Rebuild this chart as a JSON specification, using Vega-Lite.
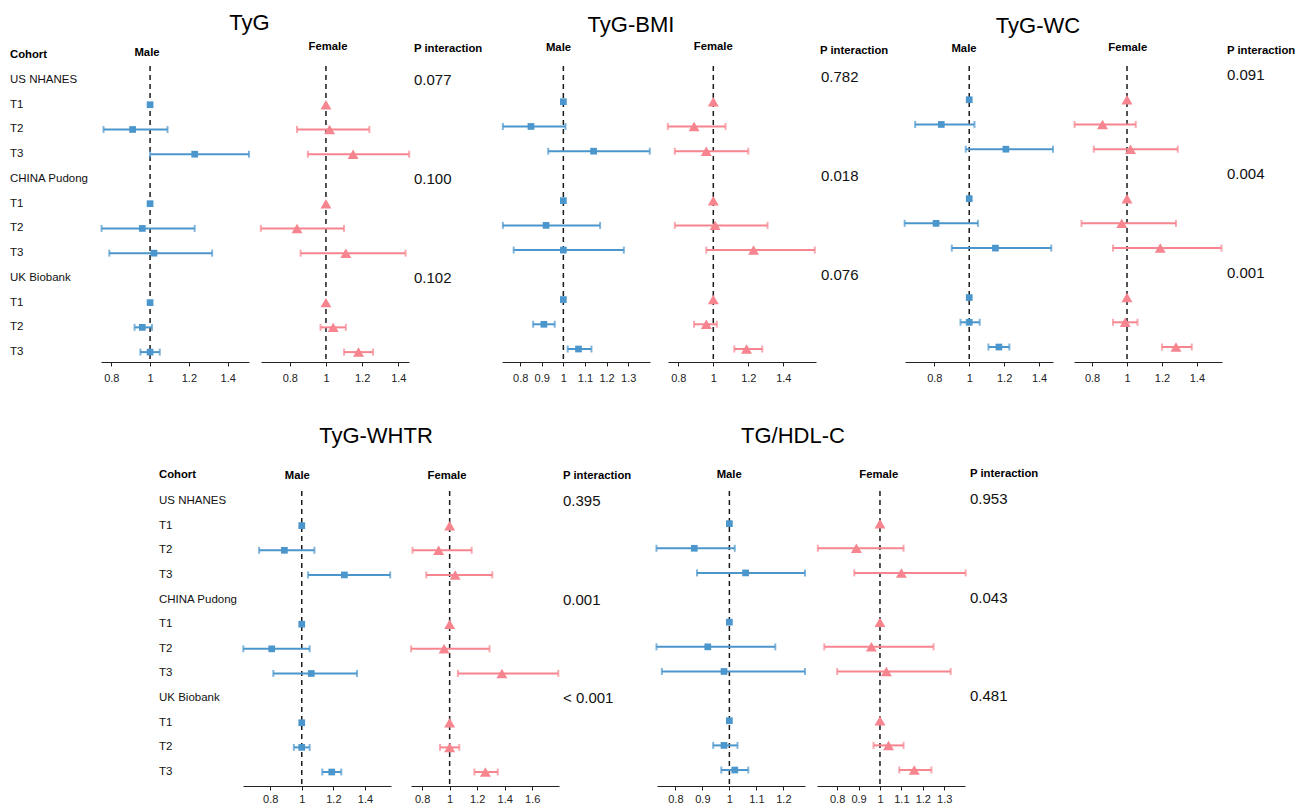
{
"$schema": "https://vega.github.io/schema/vega-lite/v6.json",
"background": "white",
"padding": {"left": 9, "top": 12, "right": 5, "bottom": 5},
"bounds": "flush",
"spacing": 425,
"datasets": {
"labels": [
{"row":1,"label":"US NHANES"},{"row":2,"label":"T1"},{"row":3,"label":"T2"},{"row":4,"label":"T3"},
{"row":5,"label":"CHINA Pudong"},{"row":6,"label":"T1"},{"row":7,"label":"T2"},{"row":8,"label":"T3"},
{"row":9,"label":"UK Biobank"},{"row":10,"label":"T1"},{"row":11,"label":"T2"},{"row":12,"label":"T3"}
],
"pvals": [
{"p":"TyG","row":1,"pval":"0.077"},{"p":"TyG","row":5,"pval":"0.100"},{"p":"TyG","row":9,"pval":"0.102"},
{"p":"TyG-BMI","row":1,"pval":"0.782"},{"p":"TyG-BMI","row":5,"pval":"0.018"},{"p":"TyG-BMI","row":9,"pval":"0.076"},
{"p":"TyG-WC","row":1,"pval":"0.091"},{"p":"TyG-WC","row":5,"pval":"0.004"},{"p":"TyG-WC","row":9,"pval":"0.001"},
{"p":"TyG-WHTR","row":1,"pval":"0.395"},{"p":"TyG-WHTR","row":5,"pval":"0.001"},{"p":"TyG-WHTR","row":9,"pval":"< 0.001"},
{"p":"TG/HDL-C","row":1,"pval":"0.953"},{"p":"TG/HDL-C","row":5,"pval":"0.043"},{"p":"TG/HDL-C","row":9,"pval":"0.481"}
],
"hr": [
{"p":"TyG","sex":"Male","row":2,"hr":1,"lo":null,"hi":null},
{"p":"TyG","sex":"Male","row":3,"hr":0.91,"lo":0.76,"hi":1.09},
{"p":"TyG","sex":"Male","row":4,"hr":1.23,"lo":1.0,"hi":1.51},
{"p":"TyG","sex":"Male","row":6,"hr":1,"lo":null,"hi":null},
{"p":"TyG","sex":"Male","row":7,"hr":0.96,"lo":0.75,"hi":1.23},
{"p":"TyG","sex":"Male","row":8,"hr":1.02,"lo":0.79,"hi":1.32},
{"p":"TyG","sex":"Male","row":10,"hr":1,"lo":null,"hi":null},
{"p":"TyG","sex":"Male","row":11,"hr":0.96,"lo":0.92,"hi":1.01},
{"p":"TyG","sex":"Male","row":12,"hr":1.0,"lo":0.95,"hi":1.05},
{"p":"TyG","sex":"Female","row":2,"hr":1,"lo":null,"hi":null},
{"p":"TyG","sex":"Female","row":3,"hr":1.02,"lo":0.84,"hi":1.24},
{"p":"TyG","sex":"Female","row":4,"hr":1.15,"lo":0.9,"hi":1.46},
{"p":"TyG","sex":"Female","row":6,"hr":1,"lo":null,"hi":null},
{"p":"TyG","sex":"Female","row":7,"hr":0.84,"lo":0.64,"hi":1.1},
{"p":"TyG","sex":"Female","row":8,"hr":1.11,"lo":0.86,"hi":1.44},
{"p":"TyG","sex":"Female","row":10,"hr":1,"lo":null,"hi":null},
{"p":"TyG","sex":"Female","row":11,"hr":1.04,"lo":0.97,"hi":1.11},
{"p":"TyG","sex":"Female","row":12,"hr":1.18,"lo":1.1,"hi":1.26},
{"p":"TyG-BMI","sex":"Male","row":2,"hr":1,"lo":null,"hi":null},
{"p":"TyG-BMI","sex":"Male","row":3,"hr":0.85,"lo":0.72,"hi":1.01},
{"p":"TyG-BMI","sex":"Male","row":4,"hr":1.14,"lo":0.93,"hi":1.4},
{"p":"TyG-BMI","sex":"Male","row":6,"hr":1,"lo":null,"hi":null},
{"p":"TyG-BMI","sex":"Male","row":7,"hr":0.92,"lo":0.72,"hi":1.17},
{"p":"TyG-BMI","sex":"Male","row":8,"hr":1.0,"lo":0.77,"hi":1.28},
{"p":"TyG-BMI","sex":"Male","row":10,"hr":1,"lo":null,"hi":null},
{"p":"TyG-BMI","sex":"Male","row":11,"hr":0.91,"lo":0.86,"hi":0.96},
{"p":"TyG-BMI","sex":"Male","row":12,"hr":1.07,"lo":1.02,"hi":1.13},
{"p":"TyG-BMI","sex":"Female","row":2,"hr":1,"lo":null,"hi":null},
{"p":"TyG-BMI","sex":"Female","row":3,"hr":0.89,"lo":0.74,"hi":1.07},
{"p":"TyG-BMI","sex":"Female","row":4,"hr":0.96,"lo":0.78,"hi":1.2},
{"p":"TyG-BMI","sex":"Female","row":6,"hr":1,"lo":null,"hi":null},
{"p":"TyG-BMI","sex":"Female","row":7,"hr":1.01,"lo":0.78,"hi":1.31},
{"p":"TyG-BMI","sex":"Female","row":8,"hr":1.23,"lo":0.96,"hi":1.58},
{"p":"TyG-BMI","sex":"Female","row":10,"hr":1,"lo":null,"hi":null},
{"p":"TyG-BMI","sex":"Female","row":11,"hr":0.96,"lo":0.89,"hi":1.02},
{"p":"TyG-BMI","sex":"Female","row":12,"hr":1.19,"lo":1.12,"hi":1.28},
{"p":"TyG-WC","sex":"Male","row":2,"hr":1,"lo":null,"hi":null},
{"p":"TyG-WC","sex":"Male","row":3,"hr":0.84,"lo":0.69,"hi":1.03},
{"p":"TyG-WC","sex":"Male","row":4,"hr":1.21,"lo":0.98,"hi":1.48},
{"p":"TyG-WC","sex":"Male","row":6,"hr":1,"lo":null,"hi":null},
{"p":"TyG-WC","sex":"Male","row":7,"hr":0.81,"lo":0.63,"hi":1.05},
{"p":"TyG-WC","sex":"Male","row":8,"hr":1.15,"lo":0.9,"hi":1.47},
{"p":"TyG-WC","sex":"Male","row":10,"hr":1,"lo":null,"hi":null},
{"p":"TyG-WC","sex":"Male","row":11,"hr":1.0,"lo":0.95,"hi":1.06},
{"p":"TyG-WC","sex":"Male","row":12,"hr":1.17,"lo":1.11,"hi":1.23},
{"p":"TyG-WC","sex":"Female","row":2,"hr":1,"lo":null,"hi":null},
{"p":"TyG-WC","sex":"Female","row":3,"hr":0.86,"lo":0.7,"hi":1.05},
{"p":"TyG-WC","sex":"Female","row":4,"hr":1.02,"lo":0.81,"hi":1.29},
{"p":"TyG-WC","sex":"Female","row":6,"hr":1,"lo":null,"hi":null},
{"p":"TyG-WC","sex":"Female","row":7,"hr":0.97,"lo":0.74,"hi":1.28},
{"p":"TyG-WC","sex":"Female","row":8,"hr":1.19,"lo":0.92,"hi":1.54},
{"p":"TyG-WC","sex":"Female","row":10,"hr":1,"lo":null,"hi":null},
{"p":"TyG-WC","sex":"Female","row":11,"hr":0.99,"lo":0.92,"hi":1.06},
{"p":"TyG-WC","sex":"Female","row":12,"hr":1.28,"lo":1.2,"hi":1.37},
{"p":"TyG-WHTR","sex":"Male","row":2,"hr":1,"lo":null,"hi":null},
{"p":"TyG-WHTR","sex":"Male","row":3,"hr":0.89,"lo":0.73,"hi":1.08},
{"p":"TyG-WHTR","sex":"Male","row":4,"hr":1.27,"lo":1.04,"hi":1.56},
{"p":"TyG-WHTR","sex":"Male","row":6,"hr":1,"lo":null,"hi":null},
{"p":"TyG-WHTR","sex":"Male","row":7,"hr":0.81,"lo":0.63,"hi":1.05},
{"p":"TyG-WHTR","sex":"Male","row":8,"hr":1.06,"lo":0.82,"hi":1.35},
{"p":"TyG-WHTR","sex":"Male","row":10,"hr":1,"lo":null,"hi":null},
{"p":"TyG-WHTR","sex":"Male","row":11,"hr":1.0,"lo":0.95,"hi":1.05},
{"p":"TyG-WHTR","sex":"Male","row":12,"hr":1.19,"lo":1.13,"hi":1.25},
{"p":"TyG-WHTR","sex":"Female","row":2,"hr":1,"lo":null,"hi":null},
{"p":"TyG-WHTR","sex":"Female","row":3,"hr":0.92,"lo":0.73,"hi":1.16},
{"p":"TyG-WHTR","sex":"Female","row":4,"hr":1.04,"lo":0.83,"hi":1.31},
{"p":"TyG-WHTR","sex":"Female","row":6,"hr":1,"lo":null,"hi":null},
{"p":"TyG-WHTR","sex":"Female","row":7,"hr":0.96,"lo":0.72,"hi":1.29},
{"p":"TyG-WHTR","sex":"Female","row":8,"hr":1.38,"lo":1.06,"hi":1.79},
{"p":"TyG-WHTR","sex":"Female","row":10,"hr":1,"lo":null,"hi":null},
{"p":"TyG-WHTR","sex":"Female","row":11,"hr":1.0,"lo":0.93,"hi":1.07},
{"p":"TyG-WHTR","sex":"Female","row":12,"hr":1.26,"lo":1.18,"hi":1.35},
{"p":"TG/HDL-C","sex":"Male","row":2,"hr":1,"lo":null,"hi":null},
{"p":"TG/HDL-C","sex":"Male","row":3,"hr":0.87,"lo":0.73,"hi":1.02},
{"p":"TG/HDL-C","sex":"Male","row":4,"hr":1.06,"lo":0.88,"hi":1.28},
{"p":"TG/HDL-C","sex":"Male","row":6,"hr":1,"lo":null,"hi":null},
{"p":"TG/HDL-C","sex":"Male","row":7,"hr":0.92,"lo":0.73,"hi":1.17},
{"p":"TG/HDL-C","sex":"Male","row":8,"hr":0.98,"lo":0.75,"hi":1.28},
{"p":"TG/HDL-C","sex":"Male","row":10,"hr":1,"lo":null,"hi":null},
{"p":"TG/HDL-C","sex":"Male","row":11,"hr":0.98,"lo":0.94,"hi":1.03},
{"p":"TG/HDL-C","sex":"Male","row":12,"hr":1.02,"lo":0.97,"hi":1.07},
{"p":"TG/HDL-C","sex":"Female","row":2,"hr":1,"lo":null,"hi":null},
{"p":"TG/HDL-C","sex":"Female","row":3,"hr":0.89,"lo":0.71,"hi":1.11},
{"p":"TG/HDL-C","sex":"Female","row":4,"hr":1.1,"lo":0.88,"hi":1.4},
{"p":"TG/HDL-C","sex":"Female","row":6,"hr":1,"lo":null,"hi":null},
{"p":"TG/HDL-C","sex":"Female","row":7,"hr":0.96,"lo":0.74,"hi":1.25},
{"p":"TG/HDL-C","sex":"Female","row":8,"hr":1.03,"lo":0.8,"hi":1.33},
{"p":"TG/HDL-C","sex":"Female","row":10,"hr":1,"lo":null,"hi":null},
{"p":"TG/HDL-C","sex":"Female","row":11,"hr":1.04,"lo":0.97,"hi":1.11},
{"p":"TG/HDL-C","sex":"Female","row":12,"hr":1.16,"lo":1.09,"hi":1.24}
]
},
"vconcat": [
{"bounds": "flush", "spacing": 4, "hconcat": [
{"width": 2, "height": 296, "title": {"text": "Cohort", "anchor": "middle", "align": "left", "offset": 6}, "data": {"name": "labels"}, "mark": {"type": "text", "align": "left", "baseline": "middle", "fontSize": 11.5, "color": "#111"}, "encoding": {"y": {"field": "row", "type": "quantitative", "scale": {"domain": [0.434, 12.4], "reverse": true, "nice": false, "zero": false}, "axis": null}, "text": {"field": "label"}}},
{"width": 82, "height": 296, "data": {"values": [{}]}, "mark": "text", "encoding": {"text": {"value": ""}}},
{"width": 148, "height": 296, "title": {"text": "Male", "offset": 7, "dx": -28}, "data": {"name": "hr"}, "transform": [{"filter": "datum.p === 'TyG' && datum.sex === 'Male'"}],
 "layer": [
  {"data": {"values": [{}]}, "mark": {"type": "rule", "strokeDash": [5, 4], "strokeWidth": 1.5, "color": "#1a1a1a"}, "encoding": {"x": {"datum": 1, "type": "quantitative"}}},
  {"mark": {"type": "rule", "strokeWidth": 2, "color": "#4b96cc"}, "encoding": {"x": {"field": "lo", "type": "quantitative", "title": null, "scale": {"domain": [0.747, 1.51], "nice": false, "zero": false}, "axis": {"values": [0.8, 1, 1.2, 1.4], "tickCount": 20, "labelExpr": "toString(datum.value)", "labelOverlap": false}}, "x2": {"field": "hi"}, "y": {"field": "row", "type": "quantitative", "scale": {"domain": [0.434, 12.4], "reverse": true, "nice": false, "zero": false}, "axis": null}}},
  {"mark": {"type": "tick", "orient": "vertical", "thickness": 2, "size": 7, "color": "#4b96cc"}, "encoding": {"x": {"field": "lo", "type": "quantitative", "title": null}, "y": {"field": "row", "type": "quantitative"}}},
  {"mark": {"type": "tick", "orient": "vertical", "thickness": 2, "size": 7, "color": "#4b96cc"}, "encoding": {"x": {"field": "hi", "type": "quantitative", "title": null}, "y": {"field": "row", "type": "quantitative"}}},
  {"mark": {"type": "point", "shape": "square", "filled": true, "size": 45, "color": "#4b96cc", "opacity": 1}, "encoding": {"x": {"field": "hr", "type": "quantitative", "title": null}, "y": {"field": "row", "type": "quantitative"}}}
 ]},
{"width": 4, "height": 296, "title": {"text": "TyG", "fontSize": 22, "fontWeight": "normal", "offset": 31, "dx": -5.5}, "data": {"values": [{}]}, "mark": "text", "encoding": {"text": {"value": ""}}},
{"width": 148, "height": 296, "title": {"text": "Female", "offset": 12.6, "dx": -7}, "data": {"name": "hr"}, "transform": [{"filter": "datum.p === 'TyG' && datum.sex === 'Female'"}],
 "layer": [
  {"data": {"values": [{}]}, "mark": {"type": "rule", "strokeDash": [5, 4], "strokeWidth": 1.5, "color": "#1a1a1a"}, "encoding": {"x": {"datum": 1, "type": "quantitative"}}},
  {"mark": {"type": "rule", "strokeWidth": 2, "color": "#f6858f"}, "encoding": {"x": {"field": "lo", "type": "quantitative", "title": null, "scale": {"domain": [0.641, 1.459], "nice": false, "zero": false}, "axis": {"values": [0.8, 1, 1.2, 1.4], "tickCount": 20, "labelExpr": "toString(datum.value)", "labelOverlap": false}}, "x2": {"field": "hi"}, "y": {"field": "row", "type": "quantitative", "scale": {"domain": [0.434, 12.4], "reverse": true, "nice": false, "zero": false}, "axis": null}}},
  {"mark": {"type": "tick", "orient": "vertical", "thickness": 2, "size": 7, "color": "#f6858f"}, "encoding": {"x": {"field": "lo", "type": "quantitative", "title": null}, "y": {"field": "row", "type": "quantitative"}}},
  {"mark": {"type": "tick", "orient": "vertical", "thickness": 2, "size": 7, "color": "#f6858f"}, "encoding": {"x": {"field": "hi", "type": "quantitative", "title": null}, "y": {"field": "row", "type": "quantitative"}}},
  {"mark": {"type": "point", "shape": "triangle-up", "filled": true, "size": 120, "color": "#f6858f", "opacity": 1}, "encoding": {"x": {"field": "hr", "type": "quantitative", "title": null}, "y": {"field": "row", "type": "quantitative"}}}
 ]},
{"width": 2, "height": 296, "title": {"text": "P interaction", "anchor": "middle", "align": "left", "offset": 12}, "data": {"name": "pvals"}, "transform": [{"filter": "datum.p === 'TyG'"}], "mark": {"type": "text", "align": "left", "baseline": "middle", "fontSize": 15, "color": "#111"}, "encoding": {"y": {"field": "row", "type": "quantitative", "scale": {"domain": [0.434, 12.4], "reverse": true, "nice": false, "zero": false}, "axis": null}, "text": {"field": "pval"}}},
{"width": 79, "height": 296, "data": {"values": [{}]}, "mark": "text", "encoding": {"text": {"value": ""}}},
{"width": 148, "height": 296, "title": {"text": "Male", "offset": 11.9, "dx": -17.5}, "data": {"name": "hr"}, "transform": [{"filter": "datum.p === 'TyG-BMI' && datum.sex === 'Male'"}],
 "layer": [
  {"data": {"values": [{}]}, "mark": {"type": "rule", "strokeDash": [5, 4], "strokeWidth": 1.5, "color": "#1a1a1a"}, "encoding": {"x": {"datum": 1, "type": "quantitative"}}},
  {"mark": {"type": "rule", "strokeWidth": 2, "color": "#4b96cc"}, "encoding": {"x": {"field": "lo", "type": "quantitative", "title": null, "scale": {"domain": [0.716, 1.401], "nice": false, "zero": false}, "axis": {"values": [0.8, 0.9, 1, 1.1, 1.2, 1.3], "tickCount": 20, "labelExpr": "toString(datum.value)", "labelOverlap": false}}, "x2": {"field": "hi"}, "y": {"field": "row", "type": "quantitative", "scale": {"domain": [0.555, 12.525], "reverse": true, "nice": false, "zero": false}, "axis": null}}},
  {"mark": {"type": "tick", "orient": "vertical", "thickness": 2, "size": 7, "color": "#4b96cc"}, "encoding": {"x": {"field": "lo", "type": "quantitative", "title": null}, "y": {"field": "row", "type": "quantitative"}}},
  {"mark": {"type": "tick", "orient": "vertical", "thickness": 2, "size": 7, "color": "#4b96cc"}, "encoding": {"x": {"field": "hi", "type": "quantitative", "title": null}, "y": {"field": "row", "type": "quantitative"}}},
  {"mark": {"type": "point", "shape": "square", "filled": true, "size": 45, "color": "#4b96cc", "opacity": 1}, "encoding": {"x": {"field": "hr", "type": "quantitative", "title": null}, "y": {"field": "row", "type": "quantitative"}}}
 ]},
{"width": 10, "height": 296, "title": {"text": "TyG-BMI", "fontSize": 22, "fontWeight": "normal", "offset": 28.7, "dx": -28}, "data": {"values": [{}]}, "mark": "text", "encoding": {"text": {"value": ""}}},
{"width": 148, "height": 296, "title": {"text": "Female", "offset": 12.6, "dx": -28.7}, "data": {"name": "hr"}, "transform": [{"filter": "datum.p === 'TyG-BMI' && datum.sex === 'Female'"}],
 "layer": [
  {"data": {"values": [{}]}, "mark": {"type": "rule", "strokeDash": [5, 4], "strokeWidth": 1.5, "color": "#1a1a1a"}, "encoding": {"x": {"datum": 1, "type": "quantitative"}}},
  {"mark": {"type": "rule", "strokeWidth": 2, "color": "#f6858f"}, "encoding": {"x": {"field": "lo", "type": "quantitative", "title": null, "scale": {"domain": [0.741, 1.587], "nice": false, "zero": false}, "axis": {"values": [0.8, 1, 1.2, 1.4], "tickCount": 20, "labelExpr": "toString(datum.value)", "labelOverlap": false}}, "x2": {"field": "hi"}, "y": {"field": "row", "type": "quantitative", "scale": {"domain": [0.555, 12.525], "reverse": true, "nice": false, "zero": false}, "axis": null}}},
  {"mark": {"type": "tick", "orient": "vertical", "thickness": 2, "size": 7, "color": "#f6858f"}, "encoding": {"x": {"field": "lo", "type": "quantitative", "title": null}, "y": {"field": "row", "type": "quantitative"}}},
  {"mark": {"type": "tick", "orient": "vertical", "thickness": 2, "size": 7, "color": "#f6858f"}, "encoding": {"x": {"field": "hi", "type": "quantitative", "title": null}, "y": {"field": "row", "type": "quantitative"}}},
  {"mark": {"type": "point", "shape": "triangle-up", "filled": true, "size": 120, "color": "#f6858f", "opacity": 1}, "encoding": {"x": {"field": "hr", "type": "quantitative", "title": null}, "y": {"field": "row", "type": "quantitative"}}}
 ]},
{"width": 2, "height": 296, "title": {"text": "P interaction", "anchor": "middle", "align": "left", "offset": 9.3, "dx": -1}, "data": {"name": "pvals"}, "transform": [{"filter": "datum.p === 'TyG-BMI'"}], "mark": {"type": "text", "align": "left", "baseline": "middle", "fontSize": 15, "color": "#111"}, "encoding": {"y": {"field": "row", "type": "quantitative", "scale": {"domain": [0.555, 12.525], "reverse": true, "nice": false, "zero": false}, "axis": null}, "text": {"field": "pval"}}},
{"width": 75, "height": 296, "data": {"values": [{}]}, "mark": "text", "encoding": {"text": {"value": ""}}},
{"width": 148, "height": 296, "title": {"text": "Male", "offset": 10.6, "dx": -15}, "data": {"name": "hr"}, "transform": [{"filter": "datum.p === 'TyG-WC' && datum.sex === 'Male'"}],
 "layer": [
  {"data": {"values": [{}]}, "mark": {"type": "rule", "strokeDash": [5, 4], "strokeWidth": 1.5, "color": "#1a1a1a"}, "encoding": {"x": {"datum": 1, "type": "quantitative"}}},
  {"mark": {"type": "rule", "strokeWidth": 2, "color": "#4b96cc"}, "encoding": {"x": {"field": "lo", "type": "quantitative", "title": null, "scale": {"domain": [0.632, 1.48], "nice": false, "zero": false}, "axis": {"values": [0.8, 1, 1.2, 1.4], "tickCount": 20, "labelExpr": "toString(datum.value)", "labelOverlap": false}}, "x2": {"field": "hi"}, "y": {"field": "row", "type": "quantitative", "scale": {"domain": [0.636, 12.606], "reverse": true, "nice": false, "zero": false}, "axis": null}}},
  {"mark": {"type": "tick", "orient": "vertical", "thickness": 2, "size": 7, "color": "#4b96cc"}, "encoding": {"x": {"field": "lo", "type": "quantitative", "title": null}, "y": {"field": "row", "type": "quantitative"}}},
  {"mark": {"type": "tick", "orient": "vertical", "thickness": 2, "size": 7, "color": "#4b96cc"}, "encoding": {"x": {"field": "hi", "type": "quantitative", "title": null}, "y": {"field": "row", "type": "quantitative"}}},
  {"mark": {"type": "point", "shape": "square", "filled": true, "size": 45, "color": "#4b96cc", "opacity": 1}, "encoding": {"x": {"field": "hr", "type": "quantitative", "title": null}, "y": {"field": "row", "type": "quantitative"}}}
 ]},
{"width": 13, "height": 296, "title": {"text": "TyG-WC", "fontSize": 22, "fontWeight": "normal", "offset": 27.7, "dx": -25.5}, "data": {"values": [{}]}, "mark": "text", "encoding": {"text": {"value": ""}}},
{"width": 148, "height": 296, "title": {"text": "Female", "offset": 11.9, "dx": -20.3}, "data": {"name": "hr"}, "transform": [{"filter": "datum.p === 'TyG-WC' && datum.sex === 'Female'"}],
 "layer": [
  {"data": {"values": [{}]}, "mark": {"type": "rule", "strokeDash": [5, 4], "strokeWidth": 1.5, "color": "#1a1a1a"}, "encoding": {"x": {"datum": 1, "type": "quantitative"}}},
  {"mark": {"type": "rule", "strokeWidth": 2, "color": "#f6858f"}, "encoding": {"x": {"field": "lo", "type": "quantitative", "title": null, "scale": {"domain": [0.697, 1.543], "nice": false, "zero": false}, "axis": {"values": [0.8, 1, 1.2, 1.4], "tickCount": 20, "labelExpr": "toString(datum.value)", "labelOverlap": false}}, "x2": {"field": "hi"}, "y": {"field": "row", "type": "quantitative", "scale": {"domain": [0.636, 12.606], "reverse": true, "nice": false, "zero": false}, "axis": null}}},
  {"mark": {"type": "tick", "orient": "vertical", "thickness": 2, "size": 7, "color": "#f6858f"}, "encoding": {"x": {"field": "lo", "type": "quantitative", "title": null}, "y": {"field": "row", "type": "quantitative"}}},
  {"mark": {"type": "tick", "orient": "vertical", "thickness": 2, "size": 7, "color": "#f6858f"}, "encoding": {"x": {"field": "hi", "type": "quantitative", "title": null}, "y": {"field": "row", "type": "quantitative"}}},
  {"mark": {"type": "point", "shape": "triangle-up", "filled": true, "size": 120, "color": "#f6858f", "opacity": 1}, "encoding": {"x": {"field": "hr", "type": "quantitative", "title": null}, "y": {"field": "row", "type": "quantitative"}}}
 ]},
{"width": 2, "height": 296, "title": {"text": "P interaction", "anchor": "middle", "align": "left", "offset": 9.9}, "data": {"name": "pvals"}, "transform": [{"filter": "datum.p === 'TyG-WC'"}], "mark": {"type": "text", "align": "left", "baseline": "middle", "fontSize": 15, "color": "#111"}, "encoding": {"y": {"field": "row", "type": "quantitative", "scale": {"domain": [0.636, 12.606], "reverse": true, "nice": false, "zero": false}, "axis": null}, "text": {"field": "pval"}}}
]},
{"bounds": "flush", "spacing": 4, "hconcat": [
{"width": 146, "height": 295, "data": {"values": [{}]}, "mark": "text", "encoding": {"text": {"value": ""}}},
{"width": 2, "height": 295, "title": {"text": "Cohort", "anchor": "middle", "align": "left", "offset": 10.9, "dx": -1}, "data": {"name": "labels"}, "mark": {"type": "text", "align": "left", "baseline": "middle", "fontSize": 11.5, "color": "#111", "dx": -1}, "encoding": {"y": {"field": "row", "type": "quantitative", "scale": {"domain": [0.594, 12.567], "reverse": true, "nice": false, "zero": false}, "axis": null}, "text": {"field": "label"}}},
{"width": 74, "height": 295, "data": {"values": [{}]}, "mark": "text", "encoding": {"text": {"value": ""}}},
{"width": 148, "height": 295, "title": {"text": "Male", "offset": 9.3, "dx": -19.7}, "data": {"name": "hr"}, "transform": [{"filter": "datum.p === 'TyG-WHTR' && datum.sex === 'Male'"}],
 "layer": [
  {"data": {"values": [{}]}, "mark": {"type": "rule", "strokeDash": [5, 4], "strokeWidth": 1.5, "color": "#1a1a1a"}, "encoding": {"x": {"datum": 1, "type": "quantitative"}}},
  {"mark": {"type": "rule", "strokeWidth": 2, "color": "#4b96cc"}, "encoding": {"x": {"field": "lo", "type": "quantitative", "title": null, "scale": {"domain": [0.628, 1.565], "nice": false, "zero": false}, "axis": {"values": [0.8, 1, 1.2, 1.4], "tickCount": 20, "labelExpr": "toString(datum.value)", "labelOverlap": false, "labelPadding": 3}}, "x2": {"field": "hi"}, "y": {"field": "row", "type": "quantitative", "scale": {"domain": [0.594, 12.567], "reverse": true, "nice": false, "zero": false}, "axis": null}}},
  {"mark": {"type": "tick", "orient": "vertical", "thickness": 2, "size": 7, "color": "#4b96cc"}, "encoding": {"x": {"field": "lo", "type": "quantitative", "title": null}, "y": {"field": "row", "type": "quantitative"}}},
  {"mark": {"type": "tick", "orient": "vertical", "thickness": 2, "size": 7, "color": "#4b96cc"}, "encoding": {"x": {"field": "hi", "type": "quantitative", "title": null}, "y": {"field": "row", "type": "quantitative"}}},
  {"mark": {"type": "point", "shape": "square", "filled": true, "size": 45, "color": "#4b96cc", "opacity": 1}, "encoding": {"x": {"field": "hr", "type": "quantitative", "title": null}, "y": {"field": "row", "type": "quantitative"}}}
 ]},
{"width": 12, "height": 295, "title": {"text": "TyG-WHTR", "fontSize": 22, "fontWeight": "normal", "offset": 42.7, "dx": -25}, "data": {"values": [{}]}, "mark": "text", "encoding": {"text": {"value": ""}}},
{"width": 148, "height": 295, "title": {"text": "Female", "offset": 9.3, "dx": -38}, "data": {"name": "hr"}, "transform": [{"filter": "datum.p === 'TyG-WHTR' && datum.sex === 'Female'"}],
 "layer": [
  {"data": {"values": [{}]}, "mark": {"type": "rule", "strokeDash": [5, 4], "strokeWidth": 1.5, "color": "#1a1a1a"}, "encoding": {"x": {"datum": 1, "type": "quantitative"}}},
  {"mark": {"type": "rule", "strokeWidth": 2, "color": "#f6858f"}, "encoding": {"x": {"field": "lo", "type": "quantitative", "title": null, "scale": {"domain": [0.719, 1.795], "nice": false, "zero": false}, "axis": {"values": [0.8, 1, 1.2, 1.4, 1.6], "tickCount": 20, "labelExpr": "toString(datum.value)", "labelOverlap": false, "labelPadding": 3}}, "x2": {"field": "hi"}, "y": {"field": "row", "type": "quantitative", "scale": {"domain": [0.594, 12.567], "reverse": true, "nice": false, "zero": false}, "axis": null}}},
  {"mark": {"type": "tick", "orient": "vertical", "thickness": 2, "size": 7, "color": "#f6858f"}, "encoding": {"x": {"field": "lo", "type": "quantitative", "title": null}, "y": {"field": "row", "type": "quantitative"}}},
  {"mark": {"type": "tick", "orient": "vertical", "thickness": 2, "size": 7, "color": "#f6858f"}, "encoding": {"x": {"field": "hi", "type": "quantitative", "title": null}, "y": {"field": "row", "type": "quantitative"}}},
  {"mark": {"type": "point", "shape": "triangle-up", "filled": true, "size": 120, "color": "#f6858f", "opacity": 1}, "encoding": {"x": {"field": "hr", "type": "quantitative", "title": null}, "y": {"field": "row", "type": "quantitative"}}}
 ]},
{"width": 2, "height": 295, "title": {"text": "P interaction", "anchor": "middle", "align": "left", "offset": 9.6, "dx": -1}, "data": {"name": "pvals"}, "transform": [{"filter": "datum.p === 'TyG-WHTR'"}], "mark": {"type": "text", "align": "left", "baseline": "middle", "fontSize": 15, "color": "#111", "dx": -1}, "encoding": {"y": {"field": "row", "type": "quantitative", "scale": {"domain": [0.594, 12.567], "reverse": true, "nice": false, "zero": false}, "axis": null}, "text": {"field": "pval"}}},
{"width": 84, "height": 295, "data": {"values": [{}]}, "mark": "text", "encoding": {"text": {"value": ""}}},
{"width": 148, "height": 295, "title": {"text": "Male", "offset": 10.3, "dx": -1.8}, "data": {"name": "hr"}, "transform": [{"filter": "datum.p === 'TG/HDL-C' && datum.sex === 'Male'"}],
 "layer": [
  {"data": {"values": [{}]}, "mark": {"type": "rule", "strokeDash": [5, 4], "strokeWidth": 1.5, "color": "#1a1a1a"}, "encoding": {"x": {"datum": 1, "type": "quantitative"}}},
  {"mark": {"type": "rule", "strokeWidth": 2, "color": "#4b96cc"}, "encoding": {"x": {"field": "lo", "type": "quantitative", "title": null, "scale": {"domain": [0.732, 1.28], "nice": false, "zero": false}, "axis": {"values": [0.8, 0.9, 1, 1.1, 1.2], "tickCount": 20, "labelExpr": "toString(datum.value)", "labelOverlap": false, "labelPadding": 3}}, "x2": {"field": "hi"}, "y": {"field": "row", "type": "quantitative", "scale": {"domain": [0.675, 12.648], "reverse": true, "nice": false, "zero": false}, "axis": null}}},
  {"mark": {"type": "tick", "orient": "vertical", "thickness": 2, "size": 7, "color": "#4b96cc"}, "encoding": {"x": {"field": "lo", "type": "quantitative", "title": null}, "y": {"field": "row", "type": "quantitative"}}},
  {"mark": {"type": "tick", "orient": "vertical", "thickness": 2, "size": 7, "color": "#4b96cc"}, "encoding": {"x": {"field": "hi", "type": "quantitative", "title": null}, "y": {"field": "row", "type": "quantitative"}}},
  {"mark": {"type": "point", "shape": "square", "filled": true, "size": 45, "color": "#4b96cc", "opacity": 1}, "encoding": {"x": {"field": "hr", "type": "quantitative", "title": null}, "y": {"field": "row", "type": "quantitative"}}}
 ]},
{"width": 4, "height": 295, "title": {"text": "TG/HDL-C", "fontSize": 22, "fontWeight": "normal", "offset": 42.7, "dx": -18}, "data": {"values": [{}]}, "mark": "text", "encoding": {"text": {"value": ""}}},
{"width": 148, "height": 295, "title": {"text": "Female", "offset": 10.3, "dx": -12.3}, "data": {"name": "hr"}, "transform": [{"filter": "datum.p === 'TG/HDL-C' && datum.sex === 'Female'"}],
 "layer": [
  {"data": {"values": [{}]}, "mark": {"type": "rule", "strokeDash": [5, 4], "strokeWidth": 1.5, "color": "#1a1a1a"}, "encoding": {"x": {"datum": 1, "type": "quantitative"}}},
  {"mark": {"type": "rule", "strokeWidth": 2, "color": "#f6858f"}, "encoding": {"x": {"field": "lo", "type": "quantitative", "title": null, "scale": {"domain": [0.706, 1.397], "nice": false, "zero": false}, "axis": {"values": [0.8, 0.9, 1, 1.1, 1.2, 1.3], "tickCount": 20, "labelExpr": "toString(datum.value)", "labelOverlap": false, "labelPadding": 3}}, "x2": {"field": "hi"}, "y": {"field": "row", "type": "quantitative", "scale": {"domain": [0.675, 12.648], "reverse": true, "nice": false, "zero": false}, "axis": null}}},
  {"mark": {"type": "tick", "orient": "vertical", "thickness": 2, "size": 7, "color": "#f6858f"}, "encoding": {"x": {"field": "lo", "type": "quantitative", "title": null}, "y": {"field": "row", "type": "quantitative"}}},
  {"mark": {"type": "tick", "orient": "vertical", "thickness": 2, "size": 7, "color": "#f6858f"}, "encoding": {"x": {"field": "hi", "type": "quantitative", "title": null}, "y": {"field": "row", "type": "quantitative"}}},
  {"mark": {"type": "point", "shape": "triangle-up", "filled": true, "size": 120, "color": "#f6858f", "opacity": 1}, "encoding": {"x": {"field": "hr", "type": "quantitative", "title": null}, "y": {"field": "row", "type": "quantitative"}}}
 ]},
{"width": 2, "height": 295, "title": {"text": "P interaction", "anchor": "middle", "align": "left", "offset": 11.9}, "data": {"name": "pvals"}, "transform": [{"filter": "datum.p === 'TG/HDL-C'"}], "mark": {"type": "text", "align": "left", "baseline": "middle", "fontSize": 15, "color": "#111"}, "encoding": {"y": {"field": "row", "type": "quantitative", "scale": {"domain": [0.675, 12.648], "reverse": true, "nice": false, "zero": false}, "axis": null}, "text": {"field": "pval"}}}
]}
],
"config": {
 "font": "Liberation Sans",
 "view": {"stroke": null},
 "title": {"font": "Liberation Sans", "fontSize": 11.3, "fontWeight": "bold", "color": "#000", "anchor": "middle"},
 "axisX": {"domainColor": "#222", "tickColor": "#222", "tickSize": 4, "labelFontSize": 11, "labelColor": "#222", "grid": false, "labelPadding": 6, "labelFlush": false, "labelOverlap": false, "domainWidth": 1, "tickWidth": 1, "labelFont": "Liberation Sans"}
}
}
